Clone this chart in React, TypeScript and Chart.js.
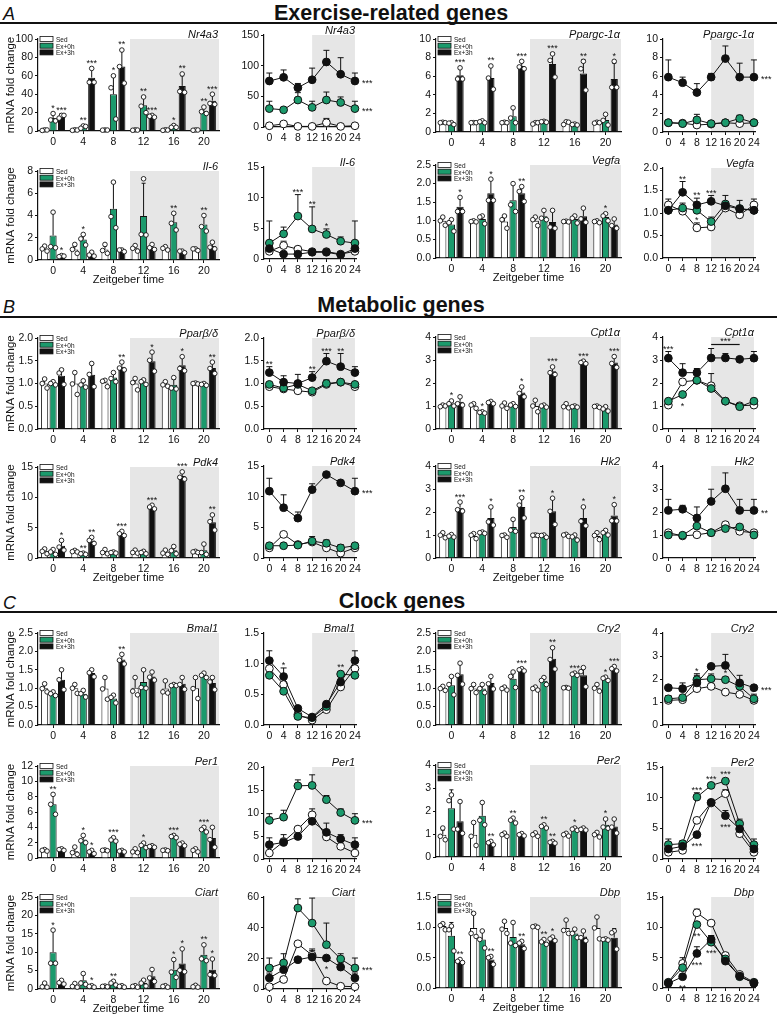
import React, { useEffect, useRef } from "react";
import { Chart, registerables } from "chart.js";

Chart.register(...registerables);

const FONT = "'Liberation Sans', Arial, Helvetica, sans-serif";
const INK = "#111111";
const SHADE = "#e6e6e6";
Chart.defaults.font.family = FONT;
Chart.defaults.color = INK;

const GROUPS = ["Sed", "Ex+0h", "Ex+3h"];
const FILLS = ["#ffffff", "#1b9a6c", "#111111"];
const BAR_CATS = ["0", "4", "8", "12", "16", "20"];
const LINE_X = [0, 4, 8, 12, 16, 20, 24];

// ================= A: Exercise-related genes =================
const nr4a3Ticks = [0, 20, 40, 60, 80, 100];
const nr4a3Mean = [
  [1, 1, 1, 1, 1, 1],
  [14, 4.3, 40, 28, 4.7, 22],
  [16, 58, 70, 16, 49, 33],
];
const nr4a3Sd = [
  [0.4, 0.4, 0.3, 0.3, 0.4, 0.3],
  [6, 1.7, 20, 9, 1.8, 4],
  [3, 10, 18, 1.5, 11, 7],
];
const nr4a3Dots = [
  [[1.2, 0.6, 1.1], [1.3, 0.7, 1], [1.1, 0.9, 1], [1.2, 0.8, 1], [1.3, 0.7, 1], [1.1, 0.8, 1.1]],
  [[19, 12, 11], [5.5, 3, 5], [60, 47, 13], [37, 27, 20], [6, 4, 4], [26, 21, 19]],
  [[17, 14, 17], [68, 53, 53], [88, 70, 52], [17, 16, 15], [62, 43, 42], [40, 30, 29]],
];
const nr4a3Stars = [
  ["", "", "", "", "", ""],
  ["*", "**", "*", "**", "*", "**"],
  ["***", "***", "**", "***", "**", "***"],
];
const nr4a3LineTicks = [0, 50, 100, 150];
const nr4a3LineMean = [
  [2, 5, 1, 1, 7, 1, 2],
  [30, 28, 44, 32, 44, 40, 30],
  [75, 81, 64, 77, 106, 86, 75],
];
const nr4a3LineSd = [
  [1, 1.5, 0.5, 0.5, 7, 0.5, 1],
  [12, 3, 12, 10, 13, 9, 12],
  [13, 12, 7, 19, 19, 27, 13],
];
const nr4a3LineNotes = [[2, 6, "***", "right"], [1, 6, "***", "right"]];

const ppargcTicks = [0, 2, 4, 6, 8, 10];
const ppargcMean = [
  [1, 1, 1, 0.95, 1, 1],
  [0.9, 1.1, 1.7, 1.1, 0.8, 1.3],
  [6.1, 5.8, 7.1, 7.3, 6.3, 5.7],
];
const ppargcSd = [
  [0.05, 0.05, 0.05, 0.1, 0.15, 0.05],
  [0.1, 0.1, 0.85, 0.05, 0.1, 0.55],
  [0.7, 1.25, 0.45, 1.2, 1.5, 1.7],
];
const ppargcDots = [
  [[1.05, 1, 1], [1, 1, 1], [1.05, 1, 1], [1, 0.85, 1], [1.1, 0.8, 1.05], [1.05, 0.95, 1]],
  [[1, 0.95, 0.8], [1.2, 1.1, 1.0], [2.6, 1.5, 1.0], [1.15, 1.1, 1.05], [0.85, 0.8, 0.75], [1.9, 1.25, 0.75]],
  [[6.9, 5.7, 5.7], [7.1, 5.8, 4.6], [7.6, 7.0, 6.8], [8.4, 7.7, 5.9], [7.6, 6.8, 4.5], [7.6, 4.8, 4.8]],
];
const ppargcStars = [
  ["", "", "", "", "", ""],
  ["", "", "", "", "", ""],
  ["***", "**", "***", "***", "**", "*"],
];
const ppargcLineTicks = [0, 2, 4, 6, 8, 10];
const ppargcLineMean = [
  [1, 0.95, 0.75, 0.85, 1, 0.9, 1],
  [1, 0.9, 1.3, 0.9, 1, 1.45, 1],
  [5.9, 5.3, 4.25, 5.9, 7.9, 5.9, 5.9],
];
const ppargcLineSd = [
  [0.05, 0.05, 0.1, 0.05, 0.05, 0.05, 0.05],
  [0.05, 0.05, 0.6, 0.05, 0.05, 0.35, 0.05],
  [1.85, 0.6, 0.95, 0.4, 1.35, 1.5, 1.85],
];
const ppargcLineNotes = [[2, 6, "***", "right"]];

const il6Ticks = [0, 2, 4, 6, 8];
const il6Mean = [
  [1.0, 0.95, 0.95, 1.05, 1.05, 0.95],
  [2.2, 1.85, 4.6, 3.95, 3.4, 3.2],
  [0.35, 0.5, 0.85, 1.15, 0.75, 1.25],
];
const il6Sd = [
  [0.2, 0.3, 0.3, 0.25, 0.1, 0.05],
  [2.1, 0.4, 2.4, 2.95, 0.7, 0.75],
  [0.05, 0.15, 0.08, 0.2, 0.07, 0.3],
];
const il6Dots = [
  [[1.25, 1.0, 0.8], [1.4, 0.95, 0.6], [1.4, 0.85, 0.6], [1.3, 1.05, 0.8], [1.2, 1.05, 0.9], [1.0, 1.0, 0.85]],
  [[4.3, 1.2, 1.1], [2.3, 1.9, 1.35], [7.0, 3.9, 2.9], [7.3, 2.3, 2.25], [4.2, 3.3, 2.7], [4.0, 3.0, 2.6]],
  [[0.4, 0.3, 0.35], [0.7, 0.45, 0.35], [0.9, 0.9, 0.75], [1.4, 1.1, 0.95], [0.8, 0.8, 0.65], [1.6, 1.15, 1.0]],
];
const il6Stars = [
  ["", "", "", "", "", ""],
  ["", "*", "", "", "**", "**"],
  ["*", "", "", "", "", ""],
];
const il6LineTicks = [0, 5, 10, 15];
const il6LineMean = [
  [1.25, 2.2, 1.6, 1.2, 1.2, 0.8, 1.25],
  [2.6, 4.1, 7.0, 4.9, 4.0, 2.9, 2.6],
  [1.7, 0.8, 0.8, 1.1, 1.1, 0.7, 1.7],
];
const il6LineSd = [
  [0.4, 0.7, 0.45, 0.1, 0.15, 0.1, 0.4],
  [3.6, 1.1, 3.5, 3.6, 0.9, 0.7, 3.6],
  [0.1, 0.1, 0.1, 0.1, 0.1, 0.1, 0.1],
];
const il6LineNotes = [[1, 2, "***", "above"], [1, 3, "**", "above"], [1, 4, "*", "above"]];

const vegfaTicks = [0, 0.5, 1, 1.5, 2, 2.5];
const vegfaMean = [
  [1.0, 0.98, 0.98, 1.0, 0.98, 0.98],
  [0.9, 1.05, 1.55, 1.12, 1.05, 1.1],
  [1.38, 1.74, 1.74, 0.97, 1.12, 0.9],
];
const vegfaSd = [
  [0.1, 0.02, 0.15, 0.1, 0.02, 0.03],
  [0.13, 0.08, 0.45, 0.15, 0.08, 0.08],
  [0.27, 0.38, 0.18, 0.3, 0.22, 0.15],
];
const vegfaDots = [
  [[1.1, 1.0, 0.88], [1.0, 0.98, 0.97], [1.13, 1.03, 0.8], [1.1, 1.03, 0.87], [0.99, 0.98, 0.97], [1.0, 0.98, 0.95]],
  [[1.03, 0.95, 0.72], [1.13, 1.1, 0.92], [2.0, 1.43, 1.25], [1.28, 1.07, 1.03], [1.13, 1.07, 0.94], [1.19, 1.13, 1.0]],
  [[1.63, 1.25, 1.25], [2.12, 1.55, 1.55], [1.92, 1.79, 1.52], [1.28, 0.83, 0.8], [1.34, 1.05, 0.96], [1.05, 0.87, 0.8]],
];
const vegfaStars = [
  ["", "", "", "", "", ""],
  ["", "", "", "", "", "*"],
  ["*", "*", "**", "", "", ""],
];
const vegfaLineTicks = [0, 0.5, 1, 1.5, 2];
const vegfaLineMean = [
  [1.18, 1.04, 0.67, 0.69, 1.11, 0.96, 1.18],
  [1.06, 1.11, 1.06, 0.81, 1.2, 1.1, 1.06],
  [1.06, 1.46, 1.18, 1.26, 1.16, 1.09, 1.06],
];
const vegfaLineSd = [
  [0.13, 0.03, 0.11, 0.03, 0.1, 0.05, 0.13],
  [0.05, 0.11, 0.05, 0.1, 0.19, 0.05, 0.05],
  [0.05, 0.24, 0.15, 0.13, 0.05, 0.19, 0.05],
];
const vegfaLineNotes = [[2, 1, "**", "above"], [2, 2, "**", "above"], [2, 3, "***", "above"], [0, 2, "*", "above"]];

// ================= B: Metabolic genes =================
const pparTicks = [0, 0.5, 1, 1.5, 2];
const pparMean = [
  [1.0, 1.0, 1.02, 1.0, 0.98, 1.0],
  [1.0, 0.98, 1.13, 1.03, 0.97, 0.98],
  [1.17, 1.19, 1.37, 1.49, 1.4, 1.34],
];
const pparSd = [
  [0.1, 0.24, 0.05, 0.12, 0.05, 0.02],
  [0.05, 0.06, 0.1, 0.05, 0.12, 0.03],
  [0.15, 0.25, 0.07, 0.2, 0.18, 0.13],
];
const pparDots = [
  [[1.1, 1.0, 0.9], [1.24, 0.99, 0.76], [1.07, 1.05, 0.93], [1.11, 1.02, 0.86], [1.04, 0.97, 0.94], [1.01, 1.0, 0.99]],
  [[1.04, 1.0, 0.97], [1.06, 0.97, 0.92], [1.24, 1.11, 1.04], [1.08, 1.04, 0.98], [1.13, 0.9, 0.88], [1.0, 0.98, 0.96]],
  [[1.3, 1.23, 0.98], [1.44, 1.2, 0.93], [1.47, 1.34, 1.3], [1.69, 1.51, 1.27], [1.59, 1.33, 1.28], [1.47, 1.33, 1.22]],
];
const pparStars = [
  ["", "", "", "", "", ""],
  ["", "", "", "", "", ""],
  ["", "", "**", "*", "*", "**"],
];
const pparLineTicks = [0, 0.5, 1, 1.5, 2];
const pparLineMean = [
  [0.93, 0.88, 0.84, 0.81, 0.98, 1.03, 0.93],
  [0.98, 0.9, 0.98, 0.84, 1.0, 1.03, 0.98],
  [1.24, 1.03, 1.0, 1.13, 1.49, 1.37, 1.24],
];
const pparLineSd = [
  [0.03, 0.02, 0.02, 0.02, 0.1, 0.02, 0.03],
  [0.03, 0.05, 0.05, 0.03, 0.05, 0.03, 0.03],
  [0.13, 0.14, 0.2, 0.13, 0.17, 0.29, 0.13],
];
const pparLineNotes = [[2, 0, "**", "above"], [2, 3, "**", "above"], [2, 4, "***", "above"], [2, 5, "**", "above"]];

const cpt1Ticks = [0, 1, 2, 3, 4];
const cpt1Mean = [
  [1.0, 1.01, 1.01, 1.0, 1.0, 0.97],
  [1.1, 0.72, 1.04, 1.0, 0.97, 0.87],
  [1.18, 1.15, 1.59, 2.51, 2.89, 2.89],
];
const cpt1Sd = [
  [0.04, 0.1, 0.12, 0.25, 0.1, 0.03],
  [0.08, 0.03, 0.07, 0.05, 0.03, 0.1],
  [0.2, 0.05, 0.22, 0.17, 0.06, 0.28],
];
const cpt1Dots = [
  [[1.04, 0.97, 1.0], [1.1, 1.04, 0.9], [1.13, 1.0, 0.9], [1.25, 1.0, 0.75], [1.1, 0.97, 0.92], [1.0, 0.98, 0.94]],
  [[1.22, 1.1, 1.0], [0.75, 0.72, 0.69], [1.1, 1.04, 0.98], [1.04, 1.0, 0.95], [1.0, 0.97, 0.95], [0.97, 0.87, 0.78]],
  [[1.4, 1.1, 1.04], [1.2, 1.15, 1.1], [1.83, 1.55, 1.4], [2.7, 2.45, 2.37], [2.95, 2.89, 2.84], [3.15, 2.85, 2.68]],
];
const cpt1Stars = [
  ["", "", "", "", "", ""],
  ["*", "*", "", "", "", ""],
  ["", "", "*", "***", "***", "***"],
];
const cpt1LineTicks = [0, 1, 2, 3, 4];
const cpt1LineMean = [
  [1.04, 2.05, 2.12, 1.88, 1.21, 1.01, 1.04],
  [1.21, 1.5, 2.12, 1.76, 1.21, 0.97, 1.21],
  [3.08, 2.45, 2.45, 3.09, 3.09, 3.03, 3.08],
];
const cpt1LineSd = [
  [0.03, 0.05, 0.1, 0.53, 0.05, 0.03, 0.03],
  [0.05, 0.05, 0.05, 0.05, 0.05, 0.03, 0.05],
  [0.29, 0.39, 0.18, 0.41, 0.19, 0.05, 0.29],
];
const cpt1LineNotes = [[2, 0, "***", "above"], [1, 1, "*", "below"], [2, 3, "***", "bracket", 5]];

const pdk4Ticks = [0, 5, 10, 15];
const pdk4Mean = [
  [1.1, 1.1, 1.0, 1.0, 0.9, 1.0],
  [1.0, 0.7, 0.9, 0.9, 1.26, 1.27],
  [2.0, 2.9, 4.0, 8.4, 13.5, 5.9],
];
const pdk4Sd = [
  [0.4, 0.13, 0.3, 0.25, 0.35, 0.1],
  [0.35, 0.1, 0.15, 0.2, 0.6, 0.95],
  [0.8, 0.5, 0.35, 0.3, 0.6, 1.3],
];
const pdk4Dots = [
  [[1.5, 1.1, 0.7], [1.26, 1.05, 1.0], [1.4, 0.9, 0.7], [1.3, 0.9, 0.8], [1.3, 0.8, 0.6], [1.1, 1.0, 0.9]],
  [[1.4, 1.0, 0.6], [0.8, 0.7, 0.6], [1.0, 0.9, 0.8], [1.1, 0.9, 0.7], [1.9, 1.2, 0.7], [2.3, 0.9, 0.6]],
  [[2.9, 1.8, 1.3], [3.4, 2.9, 2.4], [4.4, 4.0, 3.7], [8.7, 8.4, 8.1], [14.2, 13.3, 13.0], [7.1, 6.0, 4.6]],
];
const pdk4Stars = [
  ["", "", "", "", "", ""],
  ["", "**", "", "", "", ""],
  ["*", "**", "***", "***", "***", "**"],
];
const pdk4LineTicks = [0, 5, 10, 15];
const pdk4LineMean = [
  [1.65, 3.85, 2.2, 2.6, 1.65, 0.8, 1.65],
  [2.0, 2.0, 2.1, 2.75, 2.4, 1.65, 2.0],
  [10.9, 8.2, 6.5, 11.15, 13.6, 12.25, 10.9],
];
const pdk4LineSd = [
  [0.1, 0.1, 0.1, 0.2, 0.1, 0.1, 0.1],
  [0.4, 0.1, 0.1, 0.75, 0.55, 0.55, 0.4],
  [2.1, 2.1, 1.0, 0.95, 0.4, 0.35, 2.1],
];
const pdk4LineNotes = [[2, 6, "***", "right"]];

const hk2Ticks = [0, 1, 2, 3, 4];
const hk2Mean = [
  [0.99, 0.96, 0.96, 0.99, 0.99, 0.96],
  [0.96, 1.1, 1.35, 0.96, 0.9, 1.1],
  [2.19, 1.74, 2.22, 2.03, 1.74, 1.85],
];
const hk2Sd = [
  [0.1, 0.08, 0.03, 0.02, 0.05, 0.15],
  [0.05, 0.04, 0.3, 0.05, 0.1, 0.08],
  [0.2, 0.42, 0.42, 0.57, 0.45, 0.45],
];
const hk2Dots = [
  [[1.1, 0.99, 0.88], [1.06, 0.99, 0.84], [1.0, 0.98, 0.9], [1.0, 0.99, 0.98], [1.03, 1.0, 0.94], [1.1, 0.98, 0.8]],
  [[1.02, 0.95, 0.91], [1.13, 1.1, 1.07], [1.68, 1.21, 1.16], [1.0, 0.98, 0.9], [1.0, 0.92, 0.78], [1.2, 1.1, 1.0]],
  [[2.43, 2.1, 2.04], [2.22, 1.57, 1.43], [2.62, 2.3, 1.74], [2.6, 2.03, 1.46], [2.22, 1.6, 1.4], [2.32, 1.62, 1.61]],
];
const hk2Stars = [
  ["", "", "", "", "", ""],
  ["", "", "", "", "", ""],
  ["***", "*", "**", "*", "*", "*"],
];
const hk2LineTicks = [0, 1, 2, 3, 4];
const hk2LineMean = [
  [1.1, 0.96, 1.01, 1.1, 1.45, 1.16, 1.1],
  [1.0, 0.99, 1.39, 1.1, 1.28, 1.35, 1.0],
  [2.07, 2.12, 1.74, 2.46, 3.01, 2.07, 2.07],
];
const hk2LineSd = [
  [0.05, 0.03, 0.03, 0.05, 0.08, 0.05, 0.05],
  [0.03, 0.03, 0.05, 0.05, 0.05, 0.05, 0.03],
  [0.48, 0.17, 0.48, 0.53, 0.69, 0.48, 0.48],
];
const hk2LineNotes = [[2, 6, "**", "right"]];

// ================= C: Clock genes =================
const bmal1Ticks = [0, 0.5, 1, 1.5, 2, 2.5];
const bmal1Mean = [
  [1.0, 1.0, 0.99, 1.01, 0.99, 1.0],
  [0.85, 0.85, 0.72, 1.17, 1.08, 1.35],
  [1.23, 1.41, 1.78, 1.32, 1.12, 1.14],
];
const bmal1Sd = [
  [0.1, 0.12, 0.3, 0.28, 0.2, 0.28],
  [0.04, 0.09, 0.1, 0.33, 0.03, 0.05],
  [0.27, 0.09, 0.14, 0.12, 0.17, 0.15],
];
const bmal1Dots = [
  [[1.12, 0.99, 0.9], [1.1, 1.0, 0.86], [1.29, 0.98, 0.7], [1.29, 0.92, 0.82], [1.2, 0.9, 0.87], [1.29, 0.99, 0.72]],
  [[0.9, 0.85, 0.8], [0.94, 0.85, 0.76], [0.81, 0.75, 0.6], [1.5, 1.02, 1.0], [1.1, 1.07, 1.07], [1.41, 1.35, 1.29]],
  [[1.5, 1.23, 0.96], [1.5, 1.42, 1.31], [1.92, 1.76, 1.66], [1.44, 1.3, 1.22], [1.29, 1.1, 0.97], [1.29, 1.17, 0.96]],
];
const bmal1Stars = [
  ["", "", "", "", "", ""],
  ["", "", "", "", "", ""],
  ["", "", "**", "", "", ""],
];
const bmal1LineTicks = [0, 0.5, 1, 1.5];
const bmal1LineMean = [
  [0.92, 0.66, 0.17, 0.08, 0.25, 0.62, 0.92],
  [0.81, 0.55, 0.14, 0.12, 0.3, 0.83, 0.81],
  [1.05, 0.79, 0.27, 0.13, 0.34, 0.7, 1.05],
];
const bmal1LineSd = [
  [0.03, 0.03, 0.02, 0.02, 0.02, 0.03, 0.03],
  [0.02, 0.02, 0.02, 0.02, 0.02, 0.02, 0.02],
  [0.16, 0.14, 0.02, 0.02, 0.02, 0.05, 0.16],
];
const bmal1LineNotes = [[2, 1, "*", "above"], [1, 5, "**", "above"]];

const cry2Ticks = [0, 0.5, 1, 1.5, 2, 2.5];
const cry2Mean = [
  [0.99, 0.99, 0.99, 0.99, 1.01, 1.01],
  [1.08, 0.99, 1.26, 1.2, 1.38, 1.26],
  [1.38, 1.14, 1.5, 1.8, 1.35, 1.53],
];
const cry2Sd = [
  [0.05, 0.1, 0.05, 0.04, 0.01, 0.1],
  [0.25, 0.1, 0.2, 0.1, 0.04, 0.04],
  [0.3, 0.18, 0.03, 0.3, 0.22, 0.06],
];
const cry2Dots = [
  [[1.05, 0.99, 0.94], [1.1, 0.99, 0.88], [1.03, 0.99, 0.95], [1.03, 0.99, 0.95], [1.02, 1.01, 1.0], [1.1, 1.0, 0.92]],
  [[1.32, 1.1, 0.82], [1.1, 0.99, 0.88], [1.44, 1.32, 1.02], [1.29, 1.21, 1.1], [1.41, 1.38, 1.35], [1.3, 1.27, 1.21]],
  [[1.68, 1.35, 1.11], [1.32, 1.12, 0.98], [1.53, 1.5, 1.47], [2.1, 1.78, 1.52], [1.56, 1.45, 1.04], [1.59, 1.53, 1.47]],
];
const cry2Stars = [
  ["", "", "", "", "", ""],
  ["", "", "", "", "***", "*"],
  ["", "", "***", "**", "", "***"],
];
const cry2LineTicks = [0, 1, 2, 3, 4];
const cry2LineMean = [
  [1.07, 1.1, 1.58, 1.68, 1.43, 1.33, 1.07],
  [1.14, 1.19, 1.97, 2.01, 1.97, 1.68, 1.14],
  [1.62, 1.58, 1.83, 2.55, 2.59, 1.83, 1.62],
];
const cry2LineSd = [
  [0.03, 0.03, 0.03, 0.03, 0.03, 0.03, 0.03],
  [0.14, 0.05, 0.26, 0.21, 0.05, 0.05, 0.2],
  [0.05, 0.25, 0.33, 0.05, 0.48, 0.33, 0.05],
];
const cry2LineNotes = [[1, 2, "*", "above"], [1, 4, "*", "above"], [2, 6, "***", "right"]];

const per1Ticks = [0, 2, 4, 6, 8, 10, 12];
const per1Mean = [
  [1.0, 0.87, 1.0, 0.9, 1.0, 1.0],
  [7.0, 2.4, 2.4, 1.65, 2.8, 3.7],
  [1.1, 0.78, 0.9, 1.5, 1.78, 2.6],
];
const per1Sd = [
  [0.1, 0.45, 0.05, 0.25, 0.05, 0.2],
  [1.3, 0.55, 0.25, 0.3, 0.15, 0.3],
  [0.1, 0.2, 0.1, 0.1, 0.2, 1.25],
];
const per1Dots = [
  [[1.1, 1.0, 0.9], [1.43, 0.7, 0.48], [1.05, 1.0, 0.95], [1.2, 0.8, 0.7], [1.05, 1.0, 0.95], [1.2, 1.0, 0.8]],
  [[8.3, 7.0, 5.7], [2.95, 2.25, 2.0], [2.65, 2.35, 2.2], [1.95, 1.65, 1.35], [2.95, 2.8, 2.65], [4.0, 3.7, 3.4]],
  [[1.2, 1.1, 1.0], [1.0, 0.8, 0.56], [1.0, 0.9, 0.8], [1.6, 1.5, 1.4], [1.95, 1.8, 1.6], [4.0, 2.4, 1.4]],
];
const per1Stars = [
  ["", "", "", "", "", ""],
  ["**", "*", "***", "*", "***", "***"],
  ["", "*", "", "", "", ""],
];
const per1LineTicks = [0, 5, 10, 15, 20];
const per1LineMean = [
  [1.3, 3.8, 6.5, 9.6, 4.8, 2.75, 1.3],
  [8.4, 9.1, 15.9, 16.0, 12.9, 10.1, 8.4],
  [3.1, 3.6, 4.9, 8.2, 5.8, 4.35, 3.1],
];
const per1LineSd = [
  [0.1, 0.2, 0.2, 1.3, 0.2, 0.1, 0.1],
  [1.45, 1.5, 1.3, 2.3, 0.9, 0.8, 1.45],
  [1.5, 1.7, 0.2, 0.3, 2.0, 0.95, 1.5],
];
const per1LineNotes = [[1, 6, "***", "right"]];

const per2Ticks = [0, 1, 2, 3, 4];
const per2Mean = [
  [0.97, 0.97, 0.97, 0.97, 0.97, 0.97],
  [2.12, 1.79, 1.59, 1.33, 1.21, 1.4],
  [1.55, 0.61, 0.97, 0.64, 1.21, 1.33],
];
const per2Sd = [
  [0.2, 0.55, 0.05, 0.06, 0.08, 0.1],
  [0.8, 0.6, 0.1, 0.07, 0.05, 0.25],
  [0.85, 0.08, 0.05, 0.04, 0.04, 0.3],
];
const per2Dots = [
  [[1.26, 0.9, 0.75], [1.5, 0.9, 0.5], [1.04, 0.97, 0.9], [1.05, 0.97, 0.9], [1.03, 0.97, 0.91], [1.07, 0.97, 0.87]],
  [[2.7, 2.45, 1.21], [2.37, 1.6, 1.4], [1.69, 1.6, 1.48], [1.4, 1.33, 1.26], [1.26, 1.21, 1.16], [1.65, 1.3, 1.25]],
  [[2.41, 1.21, 1.03], [0.68, 0.62, 0.53], [1.02, 0.97, 0.92], [0.68, 0.64, 0.6], [1.26, 1.2, 1.17], [1.65, 1.3, 1.04]],
];
const per2Stars = [
  ["", "", "", "", "", ""],
  ["", "", "**", "**", "*", "*"],
  ["", "**", "", "**", "", ""],
];
const per2LineTicks = [0, 5, 10, 15];
const per2LineMean = [
  [1.09, 1.41, 6.3, 9.13, 10.65, 4.13, 1.09],
  [2.34, 2.5, 10.1, 12.0, 12.7, 5.76, 2.34],
  [1.63, 2.07, 3.97, 9.24, 7.07, 4.9, 1.63],
];
const per2LineSd = [
  [0.1, 0.1, 0.2, 0.2, 0.65, 0.2, 0.1],
  [0.92, 0.5, 0.7, 0.2, 0.2, 0.74, 0.92],
  [0.2, 0.2, 0.2, 0.2, 0.83, 0.3, 0.2],
];
const per2LineNotes = [
  [1, 2, "***", "above"], [1, 3, "***", "above"], [1, 4, "***", "above"],
  [2, 2, "***", "below"], [2, 4, "***", "below"],
];

const ciartTicks = [0, 5, 10, 15, 20, 25];
const ciartMean = [
  [0.9, 0.9, 0.7, 0.7, 0.7, 0.7],
  [10.0, 2.35, 1.6, 1.6, 5.25, 9.3],
  [1.8, 0.7, 0.7, 3.45, 6.9, 5.25],
];
const ciartSd = [
  [0.5, 0.4, 0.1, 0.2, 0.2, 0.25],
  [6.1, 1.7, 0.4, 0.8, 2.75, 2.7],
  [0.5, 0.15, 0.15, 1.85, 4.0, 2.9],
];
const ciartDots = [
  [[1.6, 0.6, 0.5], [1.5, 0.7, 0.5], [0.8, 0.7, 0.6], [0.9, 0.7, 0.5], [0.9, 0.7, 0.5], [1.0, 0.6, 0.5]],
  [[16.0, 7.0, 7.0], [4.2, 1.6, 1.25], [2.1, 1.6, 1.1], [2.4, 1.6, 0.8], [8.0, 4.6, 3.15], [12.0, 8.2, 7.7]],
  [[2.35, 1.7, 1.35], [0.9, 0.7, 0.5], [0.9, 0.7, 0.5], [5.3, 3.0, 2.05], [10.9, 5.1, 4.7], [8.15, 3.9, 3.7]],
];
const ciartStars = [
  ["", "", "", "", "", ""],
  ["*", "", "**", "", "*", "**"],
  ["", "*", "", "", "*", "*"],
];
const ciartLineTicks = [0, 20, 40, 60];
const ciartLineMean = [
  [1.5, 6.2, 29.5, 22, 5.2, 1.8, 1.5],
  [13.7, 17.0, 52.8, 43.0, 28.9, 19.6, 13.7],
  [7.2, 12.6, 19.1, 20.9, 20.2, 14.3, 7.2],
];
const ciartLineSd = [
  [0.3, 0.5, 1, 3, 0.3, 0.2, 0.3],
  [6.5, 6, 6, 16.3, 14.1, 3.4, 6.5],
  [3.2, 4.4, 0.5, 5.2, 0.5, 2.7, 3.2],
];
const ciartLineNotes = [[1, 6, "***", "right"], [2, 4, "*", "below"]];

const dbpTicks = [0, 0.5, 1, 1.5];
const dbpMean = [
  [1.02, 0.99, 0.99, 1.01, 0.99, 0.99],
  [0.86, 0.8, 0.84, 0.76, 0.9, 0.8],
  [0.44, 0.47, 0.72, 0.81, 0.85, 0.83],
];
const dbpSd = [
  [0.04, 0.24, 0.1, 0.02, 0.12, 0.18],
  [0.22, 0.14, 0.24, 0.05, 0.07, 0.02],
  [0.03, 0.07, 0.06, 0.02, 0.08, 0.15],
];
const dbpDots = [
  [[1.06, 1.03, 0.96], [1.23, 0.9, 0.85], [1.1, 0.97, 0.9], [1.02, 1.01, 1.0], [1.12, 0.95, 0.9], [1.17, 0.99, 0.81]],
  [[1.02, 0.96, 0.61], [0.94, 0.8, 0.66], [1.08, 0.74, 0.7], [0.8, 0.76, 0.72], [0.97, 0.9, 0.83], [0.81, 0.8, 0.79]],
  [[0.47, 0.44, 0.42], [0.52, 0.5, 0.39], [0.77, 0.74, 0.65], [0.84, 0.81, 0.78], [0.94, 0.83, 0.78], [0.94, 0.91, 0.64]],
];
const dbpStars = [
  ["", "", "", "", "", ""],
  ["", "", "", "**", "", ""],
  ["**", "**", "**", "*", "", ""],
];
const dbpLineTicks = [0, 5, 10, 15];
const dbpLineMean = [
  [0.95, 4.05, 12.4, 10.7, 5.36, 2.24, 0.95],
  [0.88, 3.34, 10.45, 7.55, 4.8, 1.86, 0.88],
  [0.77, 1.86, 5.7, 8.0, 4.43, 1.97, 0.77],
];
const dbpLineSd = [
  [0.1, 0.95, 0.6, 0.2, 0.2, 0.2, 0.1],
  [0.1, 0.3, 0.3, 1.1, 0.2, 0.1, 0.1],
  [0.1, 0.1, 1.1, 0.65, 0.2, 0.1, 0.1],
];
const dbpLineNotes = [[1, 2, "**", "below"], [1, 3, "***", "below"], [2, 1, "**", "below"], [2, 2, "***", "below"]];

// ================= layout =================
const PAD_L = 42;
const PAD_T = 16;
const PAD_R = 30;
const PAD_B = 34;
const BAR_COL = [[38, 219], [436, 621]];
const LINE_COL = [[264, 356.4], [663, 755.4]];
const LINE_MIN = -1.5;
const LINE_MAX = 24.3;

type Panel = {
  kind: "bar" | "line";
  gene: string;
  col: number;
  T: number;
  B: number;
  ticks: number[];
  dec: number;
  mean: number[][];
  sd: number[][];
  dots?: number[][][];
  stars?: string[][];
  notes?: any[];
  ylab?: boolean;
  xlab?: boolean;
};

const PANELS: Panel[] = [
  { kind: "bar", gene: "Nr4a3", col: 0, T: 39.3, B: 131.7, ticks: nr4a3Ticks, dec: 0, mean: nr4a3Mean, sd: nr4a3Sd, dots: nr4a3Dots, stars: nr4a3Stars, ylab: true },
  { kind: "line", gene: "Nr4a3", col: 0, T: 35, B: 126.7, ticks: nr4a3LineTicks, dec: 0, mean: nr4a3LineMean, sd: nr4a3LineSd, notes: nr4a3LineNotes },
  { kind: "bar", gene: "Ppargc-1\u03b1", col: 1, T: 39, B: 132.3, ticks: ppargcTicks, dec: 0, mean: ppargcMean, sd: ppargcSd, dots: ppargcDots, stars: ppargcStars },
  { kind: "line", gene: "Ppargc-1\u03b1", col: 1, T: 39, B: 132.3, ticks: ppargcLineTicks, dec: 0, mean: ppargcLineMean, sd: ppargcLineSd, notes: ppargcLineNotes },

  { kind: "bar", gene: "Il-6", col: 0, T: 170.7, B: 260, ticks: il6Ticks, dec: 0, mean: il6Mean, sd: il6Sd, dots: il6Dots, stars: il6Stars, ylab: true, xlab: true },
  { kind: "line", gene: "Il-6", col: 0, T: 167, B: 259.3, ticks: il6LineTicks, dec: 0, mean: il6LineMean, sd: il6LineSd, notes: il6LineNotes },
  { kind: "bar", gene: "Vegfa", col: 1, T: 165, B: 258.3, ticks: vegfaTicks, dec: 1, mean: vegfaMean, sd: vegfaSd, dots: vegfaDots, stars: vegfaStars, xlab: true },
  { kind: "line", gene: "Vegfa", col: 1, T: 168.3, B: 258.3, ticks: vegfaLineTicks, dec: 1, mean: vegfaLineMean, sd: vegfaLineSd, notes: vegfaLineNotes },

  { kind: "bar", gene: "Ppar\u03b2/\u03b4", col: 0, T: 337.7, B: 429, ticks: pparTicks, dec: 1, mean: pparMean, sd: pparSd, dots: pparDots, stars: pparStars, ylab: true },
  { kind: "line", gene: "Ppar\u03b2/\u03b4", col: 0, T: 337.7, B: 429, ticks: pparLineTicks, dec: 1, mean: pparLineMean, sd: pparLineSd, notes: pparLineNotes },
  { kind: "bar", gene: "Cpt1\u03b1", col: 1, T: 336.7, B: 429, ticks: cpt1Ticks, dec: 0, mean: cpt1Mean, sd: cpt1Sd, dots: cpt1Dots, stars: cpt1Stars },
  { kind: "line", gene: "Cpt1\u03b1", col: 1, T: 337.3, B: 429, ticks: cpt1LineTicks, dec: 0, mean: cpt1LineMean, sd: cpt1LineSd, notes: cpt1LineNotes },

  { kind: "bar", gene: "Pdk4", col: 0, T: 466.7, B: 557.7, ticks: pdk4Ticks, dec: 0, mean: pdk4Mean, sd: pdk4Sd, dots: pdk4Dots, stars: pdk4Stars, ylab: true, xlab: true },
  { kind: "line", gene: "Pdk4", col: 0, T: 465.7, B: 557.7, ticks: pdk4LineTicks, dec: 0, mean: pdk4LineMean, sd: pdk4LineSd, notes: pdk4LineNotes },
  { kind: "bar", gene: "Hk2", col: 1, T: 465.7, B: 557.7, ticks: hk2Ticks, dec: 0, mean: hk2Mean, sd: hk2Sd, dots: hk2Dots, stars: hk2Stars, xlab: true },
  { kind: "line", gene: "Hk2", col: 1, T: 465.7, B: 557.7, ticks: hk2LineTicks, dec: 0, mean: hk2LineMean, sd: hk2LineSd, notes: hk2LineNotes },

  { kind: "bar", gene: "Bmal1", col: 0, T: 632.7, B: 724.7, ticks: bmal1Ticks, dec: 1, mean: bmal1Mean, sd: bmal1Sd, dots: bmal1Dots, stars: bmal1Stars, ylab: true },
  { kind: "line", gene: "Bmal1", col: 0, T: 632.7, B: 724.7, ticks: bmal1LineTicks, dec: 1, mean: bmal1LineMean, sd: bmal1LineSd, notes: bmal1LineNotes },
  { kind: "bar", gene: "Cry2", col: 1, T: 632.7, B: 724.7, ticks: cry2Ticks, dec: 1, mean: cry2Mean, sd: cry2Sd, dots: cry2Dots, stars: cry2Stars },
  { kind: "line", gene: "Cry2", col: 1, T: 632.7, B: 724.7, ticks: cry2LineTicks, dec: 0, mean: cry2LineMean, sd: cry2LineSd, notes: cry2LineNotes },

  { kind: "bar", gene: "Per1", col: 0, T: 765.7, B: 857.7, ticks: per1Ticks, dec: 0, mean: per1Mean, sd: per1Sd, dots: per1Dots, stars: per1Stars, ylab: true },
  { kind: "line", gene: "Per1", col: 0, T: 767, B: 859.3, ticks: per1LineTicks, dec: 0, mean: per1LineMean, sd: per1LineSd, notes: per1LineNotes },
  { kind: "bar", gene: "Per2", col: 1, T: 765, B: 857.3, ticks: per2Ticks, dec: 0, mean: per2Mean, sd: per2Sd, dots: per2Dots, stars: per2Stars },
  { kind: "line", gene: "Per2", col: 1, T: 767.3, B: 859.3, ticks: per2LineTicks, dec: 0, mean: per2LineMean, sd: per2LineSd, notes: per2LineNotes },

  { kind: "bar", gene: "Ciart", col: 0, T: 897.3, B: 989.3, ticks: ciartTicks, dec: 0, mean: ciartMean, sd: ciartSd, dots: ciartDots, stars: ciartStars, ylab: true, xlab: true },
  { kind: "line", gene: "Ciart", col: 0, T: 897.3, B: 989.3, ticks: ciartLineTicks, dec: 0, mean: ciartLineMean, sd: ciartLineSd, notes: ciartLineNotes },
  { kind: "bar", gene: "Dbp", col: 1, T: 897.3, B: 988.7, ticks: dbpTicks, dec: 1, mean: dbpMean, sd: dbpSd, dots: dbpDots, stars: dbpStars, xlab: true },
  { kind: "line", gene: "Dbp", col: 1, T: 897.3, B: 988.7, ticks: dbpLineTicks, dec: 0, mean: dbpLineMean, sd: dbpLineSd, notes: dbpLineNotes },
];

const SECTIONS = [
  { letter: "A", title: "Exercise-related genes", base: 20.7, letterBase: 20, line: 21.7, cx: 391 },
  { letter: "B", title: "Metabolic genes", base: 313.4, letterBase: 313.3, line: 316.3, cx: 401 },
  { letter: "C", title: "Clock genes", base: 609.3, letterBase: 609.3, line: 611.3, cx: 402 },
];

// ================= drawing helpers =================
function drawStars(ctx: CanvasRenderingContext2D, text: string, x: number, cy: number, align: CanvasTextAlign = "center") {
  ctx.save();
  ctx.font = `9px ${FONT}`;
  ctx.fillStyle = INK;
  ctx.textAlign = align;
  ctx.textBaseline = "alphabetic";
  ctx.fillText(text, x, cy + 5.2);
  ctx.restore();
}

function drawTitle(ctx: CanvasRenderingContext2D, a: any, gene: string) {
  ctx.save();
  ctx.font = `italic 11px ${FONT}`;
  ctx.fillStyle = INK;
  ctx.textAlign = "right";
  ctx.textBaseline = "alphabetic";
  ctx.fillText(gene, a.right - 1, a.top - 1.5);
  ctx.restore();
}

function yScale(ticks: number[], dec: number) {
  return {
    type: "linear",
    min: 0,
    max: ticks[ticks.length - 1],
    afterBuildTicks: (s: any) => {
      s.ticks = ticks.map((v) => ({ value: v }));
    },
    afterFit: (s: any) => {
      s.width = PAD_L;
    },
    ticks: {
      autoSkip: false,
      callback: (v: any) => Number(v).toFixed(dec),
      padding: 2,
      color: INK,
      font: { size: 10.5, family: FONT },
    },
    grid: { drawOnChartArea: false, drawTicks: true, tickLength: 3, color: INK, lineWidth: 1 },
    border: { display: true, color: INK, width: 1.2 },
  };
}

const xCommon = {
  afterFit: (s: any) => {
    s.height = PAD_B;
  },
  border: { display: true, color: INK, width: 1.2 },
};

function barPlugin(p: Panel) {
  return {
    id: "barExtras",
    beforeDraw(chart: any) {
      const { ctx, chartArea: a, scales } = chart;
      const x = scales.x;
      const sx = (x.getPixelForValue(2) + x.getPixelForValue(3)) / 2 + 1.5;
      ctx.save();
      ctx.fillStyle = SHADE;
      ctx.fillRect(sx, a.top, a.right - sx, a.bottom - a.top);
      ctx.restore();
    },
    afterDatasetsDraw(chart: any) {
      const ctx = chart.ctx as CanvasRenderingContext2D;
      const y = chart.scales.y;
      const offs = [0, -0.34, 0.34];
      for (let g = 0; g < 3; g++) {
        const meta = chart.getDatasetMeta(g);
        meta.data.forEach((el: any, j: number) => {
          const bx = el.x;
          const bw = el.width;
          const m = p.mean[g][j];
          const s = p.sd[g][j];
          const y0 = y.getPixelForValue(m);
          const y1 = y.getPixelForValue(m + s);
          ctx.save();
          ctx.strokeStyle = INK;
          ctx.lineWidth = 1;
          ctx.beginPath();
          ctx.moveTo(bx, y0);
          ctx.lineTo(bx, y1);
          ctx.moveTo(bx - bw * 0.28, y1);
          ctx.lineTo(bx + bw * 0.28, y1);
          ctx.stroke();
          const pts = p.dots![g][j];
          pts.forEach((v, k) => {
            const cx = bx + offs[k] * bw;
            const cy = y.getPixelForValue(v);
            ctx.beginPath();
            ctx.arc(cx, cy, 2.3, 0, Math.PI * 2);
            ctx.fillStyle = "#ffffff";
            ctx.fill();
            ctx.lineWidth = 0.9;
            ctx.stroke();
          });
          ctx.restore();
          const st = p.stars![g][j];
          if (st) {
            const top = Math.min(y1, ...pts.map((v) => y.getPixelForValue(v) - 2.3));
            drawStars(ctx, st, bx, top - 5.5);
          }
        });
      }
    },
    afterDraw(chart: any) {
      const ctx = chart.ctx as CanvasRenderingContext2D;
      const a = chart.chartArea;
      drawTitle(ctx, a, p.gene);
      // legend
      const lx = a.left + 2;
      GROUPS.forEach((g, i) => {
        const cy = a.top + i * 6.7;
        ctx.save();
        ctx.fillStyle = FILLS[i];
        ctx.fillRect(lx, cy - 2.5, 13, 5);
        ctx.strokeStyle = INK;
        ctx.lineWidth = 0.8;
        ctx.strokeRect(lx, cy - 2.5, 13, 5);
        ctx.translate(lx + 16, cy + 2.8);
        ctx.scale(0.85, 1);
        ctx.font = `7.6px ${FONT}`;
        ctx.fillStyle = INK;
        ctx.textAlign = "left";
        ctx.fillText(g, 0, 0);
        ctx.restore();
      });
      if (p.ylab) {
        ctx.save();
        ctx.translate(a.left - 27, (a.top + a.bottom) / 2);
        ctx.rotate(-Math.PI / 2);
        ctx.font = `11.5px ${FONT}`;
        ctx.fillStyle = INK;
        ctx.textAlign = "center";
        ctx.textBaseline = "middle";
        ctx.fillText("mRNA fold change", 0, 0);
        ctx.restore();
      }
      if (p.xlab) {
        ctx.save();
        ctx.font = `11.2px ${FONT}`;
        ctx.fillStyle = INK;
        ctx.textAlign = "center";
        ctx.textBaseline = "middle";
        ctx.fillText("Zeitgeber time", (a.left + a.right) / 2, a.bottom + 19.5);
        ctx.restore();
      }
    },
  };
}

function linePlugin(p: Panel) {
  return {
    id: "lineExtras",
    beforeDraw(chart: any) {
      const { ctx, chartArea: a, scales } = chart;
      const x0 = scales.x.getPixelForValue(12);
      const x1 = scales.x.getPixelForValue(24);
      ctx.save();
      ctx.fillStyle = SHADE;
      ctx.fillRect(x0, a.top, x1 - x0, a.bottom - a.top);
      ctx.restore();
    },
    beforeDatasetsDraw(chart: any) {
      const ctx = chart.ctx as CanvasRenderingContext2D;
      const { x, y } = chart.scales;
      ctx.save();
      ctx.strokeStyle = INK;
      ctx.lineWidth = 1;
      for (let g = 0; g < 3; g++) {
        LINE_X.forEach((xv, k) => {
          const px = x.getPixelForValue(xv);
          const y0 = y.getPixelForValue(p.mean[g][k]);
          const y1 = y.getPixelForValue(p.mean[g][k] + p.sd[g][k]);
          ctx.beginPath();
          ctx.moveTo(px, y0);
          ctx.lineTo(px, y1);
          ctx.moveTo(px - 3, y1);
          ctx.lineTo(px + 3, y1);
          ctx.stroke();
        });
      }
      ctx.restore();
    },
    afterDatasetsDraw(chart: any) {
      const ctx = chart.ctx as CanvasRenderingContext2D;
      const a = chart.chartArea;
      const { x, y } = chart.scales;
      (p.notes || []).forEach((n: any[]) => {
        const [g, k, text, pos, kEnd] = n;
        const px = x.getPixelForValue(LINE_X[k]);
        const py = y.getPixelForValue(p.mean[g][k]);
        const pe = y.getPixelForValue(p.mean[g][k] + p.sd[g][k]);
        if (pos === "above") {
          drawStars(ctx, text, px, Math.min(pe, py - 4) - 5);
        } else if (pos === "below") {
          drawStars(ctx, text, px, py + 9);
        } else if (pos === "right") {
          drawStars(ctx, text, a.right + 6, py, "left");
        } else if (pos === "bracket") {
          let top = Infinity;
          for (let i = k; i <= kEnd; i++) {
            for (let s = 0; s < 3; s++) {
              top = Math.min(top, y.getPixelForValue(p.mean[s][i] + p.sd[s][i]));
            }
          }
          const by = top - 4;
          const xa = x.getPixelForValue(LINE_X[k]);
          const xb = x.getPixelForValue(LINE_X[kEnd]);
          ctx.save();
          ctx.strokeStyle = INK;
          ctx.lineWidth = 1.2;
          ctx.beginPath();
          ctx.moveTo(xa, by);
          ctx.lineTo(xb, by);
          ctx.stroke();
          ctx.restore();
          drawStars(ctx, text, (xa + xb) / 2, by - 6);
        }
      });
    },
    afterDraw(chart: any) {
      drawTitle(chart.ctx, chart.chartArea, p.gene);
    },
  };
}

function makeConfig(p: Panel): any {
  const common = {
    animation: false,
    responsive: false,
    maintainAspectRatio: false,
    devicePixelRatio: 1,
    events: [],
    layout: { padding: { left: 0, top: PAD_T, right: PAD_R, bottom: 0 } },
    plugins: { legend: { display: false }, tooltip: { enabled: false }, title: { display: false } },
  };
  const tickFont = { size: 10.5, family: FONT };
  if (p.kind === "bar") {
    return {
      type: "bar",
      data: {
        labels: BAR_CATS,
        datasets: GROUPS.map((g, i) => ({
          label: g,
          data: p.mean[i],
          backgroundColor: FILLS[i],
          borderColor: INK,
          borderWidth: 1,
          categoryPercentage: 0.84,
          barPercentage: 0.84,
        })),
      },
      options: {
        ...common,
        scales: {
          x: {
            type: "category",
            offset: true,
            ...xCommon,
            grid: { offset: false, drawOnChartArea: false, tickLength: 3, color: INK, lineWidth: 1 },
            ticks: { autoSkip: false, maxRotation: 0, minRotation: 0, padding: 2, color: INK, font: tickFont },
          },
          y: yScale(p.ticks, p.dec),
        },
      },
      plugins: [barPlugin(p)],
    };
  }
  return {
    type: "line",
    data: {
      datasets: GROUPS.map((g, i) => ({
        label: g,
        data: LINE_X.map((xv, k) => ({ x: xv, y: p.mean[i][k] })),
        borderColor: INK,
        borderWidth: 1,
        pointRadius: 3.9,
        pointBackgroundColor: FILLS[i],
        pointBorderColor: INK,
        pointBorderWidth: 1,
        tension: 0,
        clip: false,
        order: 3 - i,
      })),
    },
    options: {
      ...common,
      scales: {
        x: {
          type: "linear",
          min: LINE_MIN,
          max: LINE_MAX,
          ...xCommon,
          afterBuildTicks: (s: any) => {
            s.ticks = LINE_X.map((v) => ({ value: v }));
          },
          grid: { drawOnChartArea: false, tickLength: 3, color: INK, lineWidth: 1 },
          ticks: { autoSkip: false, maxRotation: 0, minRotation: 0, padding: 2, color: INK, font: tickFont, callback: (v: any) => String(v) },
        },
        y: yScale(p.ticks, p.dec),
      },
    },
    plugins: [linePlugin(p)],
  };
}

function PanelChart({ p }: { p: Panel }) {
  const ref = useRef<HTMLCanvasElement | null>(null);
  const [L, R] = p.kind === "bar" ? BAR_COL[p.col] : LINE_COL[p.col];
  const cl = Math.round(L) - PAD_L;
  const ct = Math.round(p.T) - PAD_T;
  const cw = Math.round(R - L) + PAD_L + PAD_R;
  const ch = Math.round(p.B - p.T) + PAD_T + PAD_B;
  useEffect(() => {
    if (!ref.current) return;
    const chart = new Chart(ref.current, makeConfig(p));
    return () => chart.destroy();
  }, []);
  return (
    <canvas
      ref={ref}
      width={cw}
      height={ch}
      style={{ position: "absolute", left: cl, top: ct, width: cw, height: ch }}
    />
  );
}

export default function App() {
  const titleSize = 21.5;
  const letterSize = 18;
  return (
    <div
      style={{
        position: "absolute",
        left: 0,
        top: 0,
        width: 777,
        height: 1020,
        background: "#ffffff",
        overflow: "hidden",
        fontFamily: FONT,
        color: INK,
      }}
    >
      {SECTIONS.map((s) => (
        <React.Fragment key={s.letter}>
          <div
            style={{
              position: "absolute",
              left: 3,
              top: s.letterBase - 0.8465 * letterSize,
              fontSize: letterSize,
              lineHeight: `${letterSize}px`,
              fontStyle: "italic",
            }}
          >
            {s.letter}
          </div>
          <div
            style={{
              position: "absolute",
              left: s.cx,
              top: s.base - 0.8465 * titleSize,
              transform: "translateX(-50%)",
              fontSize: titleSize,
              lineHeight: `${titleSize}px`,
              fontWeight: "bold",
              whiteSpace: "nowrap",
            }}
          >
            {s.title}
          </div>
          <div style={{ position: "absolute", left: 0, top: s.line, width: 777, height: 2, background: INK }} />
        </React.Fragment>
      ))}
      {PANELS.map((p, i) => (
        <PanelChart key={i} p={p} />
      ))}
    </div>
  );
}
